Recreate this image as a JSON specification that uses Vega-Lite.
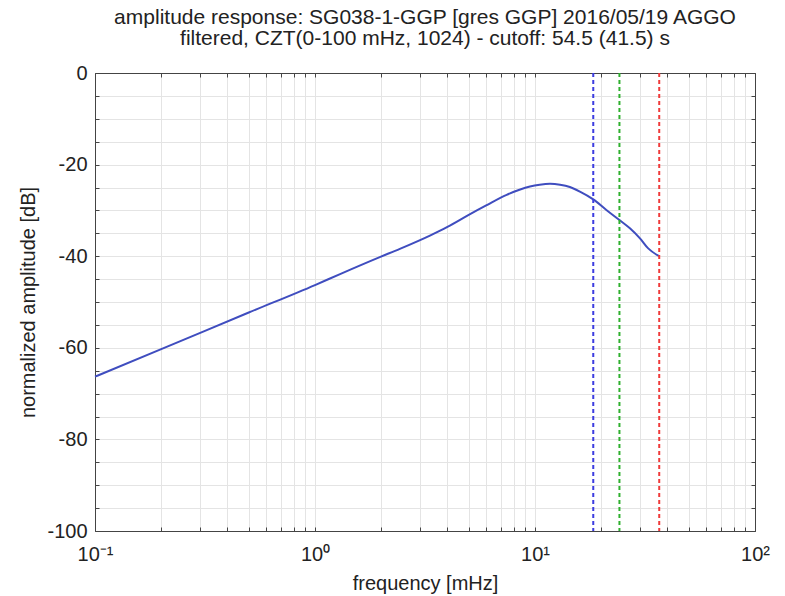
{
  "$schema": "https://vega.github.io/schema/vega-lite/v6.json",
  "width": 660,
  "height": 458,
  "autosize": "none",
  "padding": {"left": 95, "top": 73, "right": 30, "bottom": 65},
  "background": "white",
  "config": {
    "font": "Liberation Sans",
    "view": {"stroke": "#444", "strokeWidth": 1},
    "axis": {
      "labelFont": "Liberation Sans",
      "titleFont": "Liberation Sans",
      "labelFontSize": 20,
      "titleFontSize": 20,
      "titleFontWeight": "normal",
      "labelColor": "#222",
      "titleColor": "#222",
      "domainColor": "#444",
      "tickColor": "#444",
      "gridColor": "#e4e4e4",
      "gridWidth": 1
    }
  },
  "title": {
    "text": ["amplitude response: SG038-1-GGP [gres GGP] 2016/05/19 AGGO", "filtered, CZT(0-100 mHz, 1024) - cutoff: 54.5 (41.5) s"],
    "font": "Liberation Sans",
    "fontSize": 21,
    "fontWeight": "normal",
    "color": "#222",
    "anchor": "middle",
    "lineHeight": 21,
    "offset": 14
  },
  "datasets": {
    "curve": [
      {"f": 0.1, "db": -66.3},
      {"f": 0.2, "db": -60.3},
      {"f": 0.5, "db": -52.3},
      {"f": 1.0, "db": -46.3},
      {"f": 1.3, "db": -43.9},
      {"f": 1.97, "db": -40.2},
      {"f": 2.43, "db": -38.4},
      {"f": 3.33, "db": -35.5},
      {"f": 4.0, "db": -33.6},
      {"f": 5.07, "db": -30.8},
      {"f": 6.0, "db": -28.9},
      {"f": 7.43, "db": -26.6},
      {"f": 8.5, "db": -25.5},
      {"f": 9.49, "db": -24.8},
      {"f": 10.5, "db": -24.4},
      {"f": 11.7, "db": -24.2},
      {"f": 13.0, "db": -24.4},
      {"f": 14.4, "db": -24.9},
      {"f": 16.0, "db": -25.9},
      {"f": 18.4, "db": -27.6},
      {"f": 21.1, "db": -29.9},
      {"f": 24.2, "db": -32.1},
      {"f": 27.0, "db": -33.9},
      {"f": 30.0, "db": -36.1},
      {"f": 32.7, "db": -38.3},
      {"f": 36.7, "db": -40.0}
    ],
    "cutoffs": [
      {"f": 18.4, "line": "blue"},
      {"f": 24.2, "line": "green"},
      {"f": 36.7, "line": "red"}
    ]
  },
  "resolve": {"axis": {"x": "independent", "y": "independent"}},
  "layer": [
    {
      "data": {"name": "curve"},
      "mark": {"type": "line", "color": "#3f4dbf", "strokeWidth": 2, "interpolate": "monotone"},
      "encoding": {
        "x": {
          "field": "f", "type": "quantitative",
          "scale": {"type": "log", "domain": [0.1, 100], "nice": false},
          "axis": {
            "orient": "bottom",
            "title": "frequency [mHz]",
            "values": [0.1,0.2,0.3,0.4,0.5,0.6,0.7,0.8,0.9,1,2,3,4,5,6,7,8,9,10,20,30,40,50,60,70,80,90,100],
            "labelExpr": "datum.value == 0.1 ? '10⁻¹' : datum.value == 1 ? '10⁰' : datum.value == 10 ? '10¹' : datum.value == 100 ? '10²' : ''",
            "labelOverlap": false,
            "labelFlush": false,
            "tickSize": -4,
            "labelPadding": 17,
            "titlePadding": 9,
            "grid": true
          }
        },
        "y": {
          "field": "db", "type": "quantitative",
          "scale": {"domain": [-100, 0], "nice": false},
          "axis": {
            "orient": "left",
            "title": "normalized amplitude [dB]",
            "values": [-100,-95,-90,-85,-80,-75,-70,-65,-60,-55,-50,-45,-40,-35,-30,-25,-20,-15,-10,-5,0],
            "labelExpr": "datum.value % 20 == 0 ? '' + datum.value : ''",
            "labelOverlap": false,
            "labelFlush": false,
            "tickSize": -4,
            "labelPadding": 12,
            "titlePadding": 8,
            "grid": true
          }
        }
      }
    },
    {
      "data": {"name": "cutoffs"},
      "mark": {"type": "rule", "strokeDash": [4, 3], "strokeWidth": 2},
      "encoding": {
        "x": {"field": "f", "type": "quantitative", "axis": null},
        "color": {
          "field": "line", "type": "nominal", "legend": null,
          "scale": {"domain": ["blue", "green", "red"], "range": ["#3c3ce0", "#2eb02e", "#f03a3a"]}
        }
      }
    },
    {
      "data": {"name": "curve"},
      "mark": {"type": "line", "opacity": 0},
      "encoding": {
        "x": {
          "field": "f", "type": "quantitative",
          "axis": {
            "orient": "top", "title": null, "labels": false, "grid": false,
            "values": [0.1,0.2,0.3,0.4,0.5,0.6,0.7,0.8,0.9,1,2,3,4,5,6,7,8,9,10,20,30,40,50,60,70,80,90,100],
            "tickSize": -4
          }
        },
        "y": {
          "field": "db", "type": "quantitative",
          "axis": {
            "orient": "right", "title": null, "labels": false, "grid": false,
            "values": [-100,-95,-90,-85,-80,-75,-70,-65,-60,-55,-50,-45,-40,-35,-30,-25,-20,-15,-10,-5,0],
            "tickSize": -4
          }
        }
      }
    }
  ]
}
